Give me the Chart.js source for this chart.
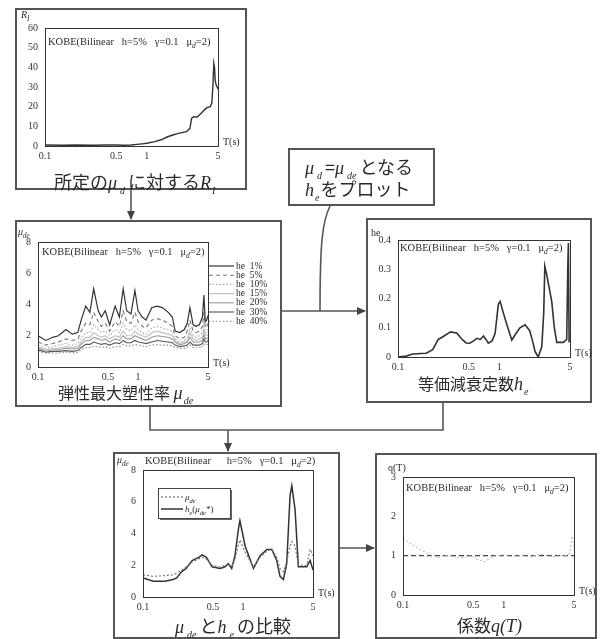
<!DOCTYPE html>
<html>
<head>
<meta charset="utf-8">
<script src="https://cdn.jsdelivr.net/npm/chart.js@4.4.0/dist/chart.umd.min.js"></script>
<style>
  html, body { margin: 0; padding: 0; background: #fff; }
  body { width: 604px; height: 639px; position: relative; overflow: hidden;
         font-family: "Noto Sans CJK JP", "Noto Sans", sans-serif; color: #2a2a2a; }
  .box { position: absolute; border: 2px solid #555; box-sizing: border-box; background: #fff; }
  canvas { position: absolute; }
  .cap { position: absolute; font-size: 17px; line-height: 20px; white-space: nowrap; }
  .cap i { font-family: "Liberation Serif", serif; font-style: italic; font-size: 18px; }
  .cap sub { font-family: "Liberation Serif", serif; font-style: italic; font-size: 10px;
             vertical-align: -5px; line-height: 0; margin-left: 1px; margin-right: 1px; }
  .cap sub.wide { margin-left: 3px; margin-right: 3px; }
  svg { position: absolute; left: 0; top: 0; }
</style>
</head>
<body>

<svg width="604" height="639">
  <defs>
    <marker id="head" markerUnits="userSpaceOnUse" markerWidth="9" markerHeight="8" refX="8" refY="4" orient="auto">
      <path d="M0,0 L9,4 L0,8 z" fill="#444"/>
    </marker>
  </defs>
  <g stroke="#555" stroke-width="1.6" fill="none">
    <line x1="131" y1="190" x2="131" y2="219" marker-end="url(#head)"/>
    <path d="M330,206 C322,222 320,245 320,311"/>
    <line x1="282" y1="311" x2="365" y2="311" marker-end="url(#head)"/>
    <polyline points="150,407 150,430 443,430 443,403"/>
    <line x1="228" y1="430" x2="228" y2="451" marker-end="url(#head)"/>
    <line x1="340" y1="548" x2="374" y2="548" marker-end="url(#head)"/>
  </g>
</svg>

<div class="box" style="left:15px;top:8px;width:232px;height:182px"></div>
<div class="box" style="left:15px;top:220px;width:267px;height:187px"></div>
<div class="box" style="left:288px;top:148px;width:147px;height:58px"></div>
<div class="box" style="left:366px;top:218px;width:226px;height:185px"></div>
<div class="box" style="left:113px;top:452px;width:227px;height:187px"></div>
<div class="box" style="left:375px;top:453px;width:222px;height:186px"></div>

<canvas id="riChart"></canvas>
<canvas id="mudeChart"></canvas>
<canvas id="heChart"></canvas>
<canvas id="compChart"></canvas>
<canvas id="qChart"></canvas>

<div class="cap" style="left:54px;top:171px;font-size:18px">所定の<i>μ</i><sub class="wide">d</sub>に対する<i>R</i><sub>I</sub></div>
<div class="cap" style="left:305px;top:156px;font-size:18px"><i>μ</i><sub class="wide">d</sub>=<i>μ</i><sub class="wide">de</sub>となる</div>
<div class="cap" style="left:305px;top:178px;font-size:18px"><i>h</i><sub>e</sub>をプロット</div>
<div class="cap" style="left:58px;top:382px;font-size:16px">弾性最大塑性率 <i>μ</i><sub>de</sub></div>
<div class="cap" style="left:418px;top:373px;font-size:16px">等価減衰定数<i>h</i><sub>e</sub></div>
<div class="cap" style="left:175px;top:615px;font-size:18px"><i>μ</i><sub class="wide">de</sub>と<i>h</i><sub class="wide">e</sub>の比較</div>
<div class="cap" style="left:457px;top:615px;font-size:17px">係数<i>q(T)</i></div>

<script>
"use strict";

// DATA -----------------------
const xTicks = [0.1, 0.5, 1, 5];

// R_I for the given mu_d
const riPeriods = [0.1, 0.15, 0.2, 0.3, 0.4, 0.5, 0.6, 0.7, 0.8, 0.9, 1.0, 1.2, 1.4, 1.6, 1.8, 2.0,
  2.2, 2.45, 2.65, 2.75, 2.9, 3.1, 3.4, 3.7, 3.9, 4.2, 4.35, 4.45, 4.55, 4.62, 4.7, 4.8, 5.0];
const riValues = [0.5, 0.4, 0.5, 0.4, 0.5, 0.5, 0.4, 0.5, 0.8, 1.1, 1.4, 2.2, 3.3, 4.7, 5.6, 6.3,
  6.8, 7.3, 9.0, 14.0, 15.0, 14.6, 16.5, 18.5, 19.5, 20.0, 22.0, 30.0, 42.0, 40.0, 33.0, 31.0, 29.0];
const riTicks = [0, 10, 20, 30, 40, 50, 60];

// elastic max ductility for each damping ratio
const mudePeriods = [0.1, 0.12, 0.14, 0.16, 0.19, 0.22, 0.25, 0.27, 0.3, 0.33, 0.36, 0.4, 0.43, 0.47,
  0.52, 0.59, 0.65, 0.71, 0.77, 0.85, 0.93, 1.0, 1.1, 1.2, 1.37, 1.55, 1.75, 2.0, 2.2, 2.35, 2.6,
  2.9, 3.1, 3.3, 3.55, 3.8, 4.1, 4.4, 4.55, 4.7, 4.85, 5.0];
const heLabels = ["he  1%", "he  5%", "he  10%", "he  15%", "he  20%", "he  30%", "he  40%"];
const mudeHe1 = [2.0, 1.7, 1.9, 2.0, 2.4, 2.1, 2.2, 3.0, 3.9, 3.5, 5.0, 3.6, 3.2, 3.6, 2.7, 3.9, 3.2,
  5.0, 3.6, 3.4, 4.9, 3.6, 3.2, 3.0, 3.8, 3.9, 3.8, 3.5, 3.2, 2.3, 2.2, 2.4, 2.8, 3.8, 2.7, 2.6, 2.7,
  3.2, 4.6, 2.9, 3.0, 3.3];
const mudeHe5 = [1.6, 1.4, 1.5, 1.6, 1.8, 1.7, 1.8, 2.3, 2.8, 2.7, 3.5, 2.9, 2.6, 2.8, 2.3, 2.9, 2.6,
  3.6, 2.9, 2.8, 3.5, 2.9, 2.6, 2.5, 3.0, 3.1, 3.0, 2.8, 2.6, 2.0, 1.8, 1.9, 2.3, 3.0, 2.3, 2.2, 2.3,
  2.6, 3.5, 2.5, 2.6, 2.8];
const mudeHe10 = [1.4, 1.2, 1.3, 1.4, 1.5, 1.4, 1.5, 1.9, 2.2, 2.2, 2.7, 2.4, 2.2, 2.3, 2.0, 2.4, 2.2,
  2.8, 2.4, 2.3, 2.7, 2.4, 2.2, 2.1, 2.5, 2.6, 2.5, 2.4, 2.3, 1.8, 1.6, 1.7, 1.9, 2.5, 2.0, 1.9, 2.0,
  2.2, 2.8, 2.2, 2.2, 2.4];
const mudeHe15 = [1.3, 1.1, 1.2, 1.2, 1.3, 1.25, 1.3, 1.6, 1.9, 1.9, 2.2, 2.0, 1.9, 2.0, 1.8, 2.0, 1.9,
  2.3, 2.0, 2.0, 2.3, 2.1, 2.0, 1.9, 2.2, 2.3, 2.2, 2.1, 2.0, 1.7, 1.5, 1.6, 1.7, 2.2, 1.8, 1.7, 1.8,
  1.9, 2.4, 2.0, 2.0, 2.1];
const mudeHe20 = [1.2, 1.0, 1.1, 1.1, 1.2, 1.15, 1.2, 1.45, 1.7, 1.7, 1.9, 1.8, 1.7, 1.8, 1.6, 1.8, 1.7,
  2.0, 1.8, 1.8, 2.0, 1.9, 1.8, 1.7, 1.9, 2.0, 1.95, 1.9, 1.8, 1.6, 1.4, 1.5, 1.6, 1.9, 1.6, 1.6, 1.6,
  1.7, 2.1, 1.8, 1.8, 1.9];
const mudeHe30 = [1.1, 0.95, 1.0, 1.0, 1.05, 1.0, 1.05, 1.25, 1.45, 1.45, 1.6, 1.5, 1.45, 1.5, 1.4, 1.55,
  1.5, 1.7, 1.55, 1.55, 1.7, 1.6, 1.55, 1.5, 1.6, 1.7, 1.65, 1.6, 1.55, 1.4, 1.3, 1.35, 1.4, 1.6, 1.4,
  1.4, 1.4, 1.5, 1.8, 1.6, 1.6, 1.7];
const mudeHe40 = [1.0, 0.9, 0.9, 0.9, 0.95, 0.9, 0.95, 1.1, 1.25, 1.25, 1.35, 1.3, 1.25, 1.3, 1.2, 1.3,
  1.3, 1.45, 1.35, 1.35, 1.45, 1.4, 1.35, 1.3, 1.4, 1.45, 1.4, 1.4, 1.35, 1.25, 1.2, 1.2, 1.25, 1.4,
  1.25, 1.25, 1.25, 1.3, 1.5, 1.4, 1.4, 1.5];
const mudeTicks = [0, 2, 4, 6, 8];

// equivalent damping he
const hePeriods = [0.1, 0.12, 0.14, 0.17, 0.19, 0.22, 0.25, 0.28, 0.33, 0.38, 0.43, 0.47, 0.51, 0.56,
  0.6, 0.65, 0.7, 0.74, 0.78, 0.85, 0.91, 0.98, 1.02, 1.1, 1.19, 1.33, 1.43, 1.6, 1.8, 2.0, 2.15, 2.26,
  2.43, 2.63, 2.75, 2.82, 2.95, 3.3, 3.5, 3.7, 4.0, 4.3, 4.64, 4.75, 4.82, 4.9];
const heValues = [0.0, 0.003, 0.01, 0.012, 0.013, 0.025, 0.06, 0.07, 0.086, 0.082, 0.06, 0.048, 0.047,
  0.055, 0.064, 0.06, 0.072, 0.06, 0.047, 0.055, 0.08, 0.18, 0.19, 0.15, 0.11, 0.058, 0.075, 0.1, 0.11,
  0.09, 0.05, 0.018, 0.0, 0.035, 0.15, 0.31, 0.28, 0.19, 0.1, 0.05, 0.05, 0.05, 0.06, 0.3, 0.39, 0.05];
const heTicks = [0, 0.1, 0.2, 0.3, 0.4];

// comparison mu_de vs he(mu_de*)
const compPeriods = [0.1, 0.127, 0.166, 0.2, 0.217, 0.244, 0.27, 0.31, 0.36, 0.39, 0.43, 0.49, 0.59,
  0.66, 0.71, 0.77, 0.83, 0.9, 0.93, 1.05, 1.27, 1.48, 1.73, 1.94, 2.17, 2.34, 2.53, 2.73, 2.95, 3.07,
  3.31, 3.57, 4.0, 4.33, 4.68, 5.0];
const compHe = [1.2, 1.0, 1.0, 1.1, 1.2, 1.6, 1.8, 2.3, 2.5, 2.65, 2.5, 1.9, 1.8, 1.9, 2.1, 1.8, 2.6,
  4.3, 4.8, 3.2, 1.8, 2.6, 3.0, 3.0, 2.3, 1.3, 1.1, 2.1, 6.4, 7.0, 5.5, 1.9, 1.9, 1.9, 2.3, 1.7];
const compMude = [1.4, 1.3, 1.35, 1.4, 1.5, 1.7, 1.9, 2.2, 2.4, 2.5, 2.4, 2.0, 1.9, 2.0, 2.1, 1.9, 2.4,
  3.3, 3.6, 2.8, 1.9, 2.5, 2.9, 3.0, 2.5, 1.8, 1.6, 2.2, 3.2, 3.5, 3.2, 2.0, 2.0, 2.0, 3.0, 2.6];
const compTicks = [0, 2, 4, 6, 8];

// coefficient q(T)
const qPeriods = [0.1, 0.12, 0.15, 0.18, 0.22, 0.27, 0.33, 0.4, 0.48, 0.55, 0.65, 0.75, 0.85, 1.0,
  1.2, 1.5, 1.9, 2.3, 2.7, 3.1, 3.6, 4.1, 4.5, 4.8, 5.0];
const qValues = [1.45, 1.3, 1.15, 1.05, 0.95, 1.0, 0.97, 0.95, 1.0, 0.9, 0.85, 0.95, 1.0, 1.02, 0.98,
  1.0, 0.97, 1.05, 1.0, 0.97, 1.0, 1.0, 1.05, 1.5, 1.2];
const qRefPeriods = [0.1, 5];
const qRefValues = [1, 1];
const qTicks = [0, 1, 2, 3];

// LAYOUT -----------------------
const X_AXIS_H = 16;
const SERIF = '"Liberation Serif", "Times New Roman", serif';
const titleParts = [["KOBE(Bilinear   h=5%   γ=0.1   μ", ""], ["d", "s"], ["=2)", ""]];
const titlePartsWide = [["KOBE(Bilinear      h=5%   γ=0.1   μ", ""], ["d", "s"], ["=2)", ""]];

// FUNCTIONS -----------------------

// pair a period array with a value array
function toPoints(periods, values) {
  return periods.map((t, i) => ({ x: t, y: values[i] }));
}

// draw text made of normal / italic / subscript parts
function drawRich(ctx, parts, x, y, size) {
  ctx.save();
  ctx.fillStyle = "#2a2a2a";
  ctx.textAlign = "left";
  ctx.textBaseline = "alphabetic";
  for (const [txt, st] of parts) {
    const sub = st === "s";
    const fs = sub ? size * 0.72 : size;
    ctx.font = (st ? "italic " : "") + fs + "px " + SERIF;
    ctx.fillText(txt, x, y + (sub ? size * 0.3 : 0));
    x += ctx.measureText(txt).width;
  }
  ctx.restore();
  return x;
}

function strokeSample(ctx, ds, x1, x2, y) {
  ctx.save();
  ctx.strokeStyle = ds.borderColor;
  ctx.lineWidth = ds.borderWidth;
  ctx.setLineDash(ds.borderDash || []);
  ctx.beginPath();
  ctx.moveTo(x1, y);
  ctx.lineTo(x2, y);
  ctx.stroke();
  ctx.restore();
}

// extra drawing per chart: frame, axis titles, inner title, legends
const decorById = {};

const decorPlugin = {
  id: "decor",
  afterDraw(chart) {
    const d = decorById[chart.canvas.id];
    const { ctx, chartArea: a } = chart;
    ctx.save();
    ctx.strokeStyle = "#333";
    ctx.lineWidth = 1;
    ctx.strokeRect(a.left + 0.5, a.top + 0.5, a.right - a.left, a.bottom - a.top);
    ctx.restore();

    drawRich(ctx, d.yTitle, a.left + d.yTitlePos[0], a.top + d.yTitlePos[1], 10);
    drawRich(ctx, d.title, a.left + d.titlePos[0], a.top + d.titlePos[1], 10.5);

    ctx.save();
    ctx.fillStyle = "#2a2a2a";
    ctx.font = "10px " + SERIF;
    ctx.textBaseline = "middle";
    ctx.fillText("T(s)", a.right + 5, a.bottom - 4);
    ctx.restore();

    if (d.sideLegend) {
      chart.data.datasets.forEach((ds, i) => {
        const y = a.top + 24 + i * 9.2;
        strokeSample(ctx, ds, a.right + 1, a.right + 26, y);
        ctx.save();
        ctx.fillStyle = "#2a2a2a";
        ctx.font = "9.5px " + SERIF;
        ctx.textBaseline = "middle";
        ctx.fillText(ds.label, a.right + 28, y);
        ctx.restore();
      });
    }
    if (d.boxLegend) {
      const bx = a.left + 15, by = a.top + 18, bw = 72, bh = 30;
      ctx.save();
      ctx.fillStyle = "#666";
      ctx.fillRect(bx + 2, by + 2, bw, bh);
      ctx.fillStyle = "#fff";
      ctx.fillRect(bx, by, bw, bh);
      ctx.strokeStyle = "#444";
      ctx.lineWidth = 1;
      ctx.strokeRect(bx + 0.5, by + 0.5, bw, bh);
      ctx.restore();
      chart.data.datasets.forEach((ds, i) => {
        const y = by + 9 + i * 12;
        strokeSample(ctx, ds, bx + 3, bx + 25, y);
        drawRich(ctx, d.boxLegend[i], bx + 27, y + 3, 9);
      });
    }
  }
};

function makeChart(id, box, plot, yTicksArr, datasets, decor) {
  const cv = document.getElementById(id);
  cv.width = box.r - box.l;
  cv.height = box.b - box.t;
  cv.style.left = box.l + "px";
  cv.style.top = box.t + "px";
  decorById[id] = decor;
  const yW = plot.l - box.l - 2;
  const tickFont = { family: SERIF, size: 10 };

  return new Chart(cv, {
    type: "line",
    data: { datasets },
    options: {
      responsive: false,
      animation: false,
      events: [],
      layout: {
        padding: { left: 2, top: plot.t - box.t, right: box.r - plot.r, bottom: box.b - plot.b - X_AXIS_H }
      },
      elements: { point: { radius: 0 }, line: { tension: 0 } },
      plugins: { legend: { display: false }, tooltip: { enabled: false } },
      scales: {
        x: {
          type: "logarithmic",
          min: 0.1,
          max: 5,
          afterBuildTicks: s => { s.ticks = xTicks.map(v => ({ value: v })); },
          afterFit: s => { s.height = X_AXIS_H; },
          grid: { display: false, drawTicks: false, tickLength: 0 },
          border: { display: false },
          ticks: { autoSkip: false, maxRotation: 0, padding: 4, font: tickFont, color: "#333",
                   callback: v => String(v) }
        },
        y: {
          min: yTicksArr[0],
          max: yTicksArr[yTicksArr.length - 1],
          afterBuildTicks: s => { s.ticks = yTicksArr.map(v => ({ value: v })); },
          afterFit: s => { s.width = yW; },
          grid: { display: false, drawTicks: false, tickLength: 0 },
          border: { display: false },
          ticks: { padding: 7, font: tickFont, color: "#333", callback: v => String(v) }
        }
      }
    },
    plugins: [decorPlugin]
  });
}

// CHARTS -----------------------

makeChart("riChart",
  { l: 15, t: 8, r: 247, b: 190 }, { l: 45, t: 28, r: 218, b: 146 }, riTicks,
  [{ data: toPoints(riPeriods, riValues), borderColor: "#333", borderWidth: 1.4 }],
  { yTitle: [["R", "i"], ["I", "s"]], yTitlePos: [-24, -10], title: titleParts, titlePos: [3, 17] });

const heStyles = [
  { c: "#333", w: 1.2, d: [] },
  { c: "#777", w: 1.1, d: [4, 3] },
  { c: "#aaa", w: 1.1, d: [1.5, 2] },
  { c: "#c4c4c4", w: 1.2, d: [] },
  { c: "#999", w: 1.1, d: [] },
  { c: "#555", w: 1.1, d: [] },
  { c: "#888", w: 1.1, d: [1.5, 2] }
];
const mudeSeries = [mudeHe1, mudeHe5, mudeHe10, mudeHe15, mudeHe20, mudeHe30, mudeHe40];
makeChart("mudeChart",
  { l: 15, t: 220, r: 282, b: 407 }, { l: 38, t: 242, r: 208, b: 367 }, mudeTicks,
  mudeSeries.map((vals, i) => ({
    label: heLabels[i],
    data: toPoints(mudePeriods, vals),
    borderColor: heStyles[i].c,
    borderWidth: heStyles[i].w,
    borderDash: heStyles[i].d
  })),
  { yTitle: [["μ", "i"], ["de", "s"]], yTitlePos: [-20, -7], title: titleParts, titlePos: [4, 13],
    sideLegend: true });

makeChart("heChart",
  { l: 366, t: 218, r: 592, b: 403 }, { l: 398, t: 240, r: 570, b: 357 }, heTicks,
  [{ data: toPoints(hePeriods, heValues), borderColor: "#333", borderWidth: 1.6 }],
  { yTitle: [["he", ""]], yTitlePos: [-27, -4], title: titleParts, titlePos: [2, 11] });

makeChart("compChart",
  { l: 113, t: 452, r: 340, b: 639 }, { l: 143, t: 470, r: 313, b: 597 }, compTicks,
  [
    { data: toPoints(compPeriods, compMude), borderColor: "#777", borderWidth: 1.2, borderDash: [2, 2] },
    { data: toPoints(compPeriods, compHe), borderColor: "#333", borderWidth: 1.5 }
  ],
  { yTitle: [["μ", "i"], ["de", "s"]], yTitlePos: [-26, -7], title: titlePartsWide, titlePos: [2, -6],
    boxLegend: [[["μ", "i"], ["de", "s"]], [["h", "i"], ["e", "s"], ["(", ""], ["μ", "i"], ["de", "s"], ["*)", ""]]] });

makeChart("qChart",
  { l: 375, t: 453, r: 597, b: 639 }, { l: 403, t: 477, r: 574, b: 595 }, qTicks,
  [
    { data: toPoints(qPeriods, qValues), borderColor: "#c0c0c0", borderWidth: 1.1, borderDash: [2, 2] },
    { data: toPoints(qRefPeriods, qRefValues), borderColor: "#444", borderWidth: 1.2, borderDash: [5, 3] }
  ],
  { yTitle: [["q(T)", ""]], yTitlePos: [-15, -6], title: titleParts, titlePos: [3, 14] });
</script>
</body>
</html>
